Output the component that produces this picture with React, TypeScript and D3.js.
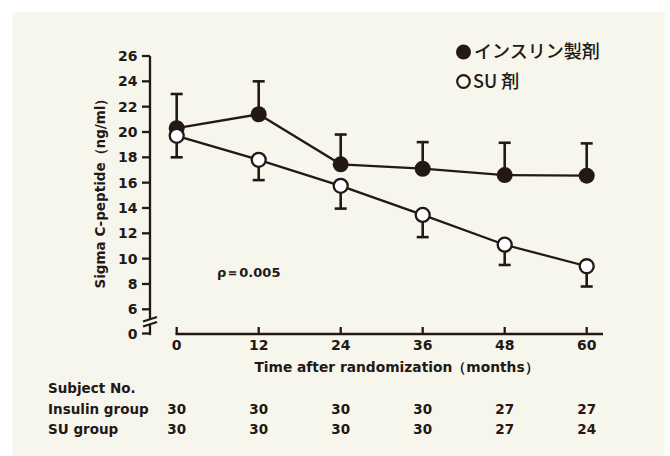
import React from "react";
import * as d3 from "d3";

const months = [0, 12, 24, 36, 48, 60];
const insulin = [20.3, 21.4, 17.45, 17.1, 16.6, 16.55];
const insulinUpper = [23.0, 24.0, 19.8, 19.2, 19.15, 19.1];
const su = [19.7, 17.8, 15.75, 13.45, 11.1, 9.4];
const suLower = [18.0, 16.2, 13.95, 11.7, 9.5, 7.8];
const yTicks = [0, 6, 8, 10, 12, 14, 16, 18, 20, 22, 24, 26];
const nInsulin = [30, 30, 30, 30, 27, 27];
const nSU = [30, 30, 30, 30, 27, 24];

const INK = "#231815";
const BG = "#f6f6ec";
const FONT = "'DejaVu Sans', sans-serif";
const CJK = "'Noto Sans CJK JP', sans-serif";

export default function App() {
  const x = d3.scaleLinear().domain([0, 60]).range([176.7, 586.7]);
  const y = d3.scaleLinear().domain([0, 6, 26]).range([333.5, 309.3, 56]);
  const line = d3
    .line<number>()
    .x((_, i) => x(months[i]))
    .y((d) => y(d));
  const axisX = 150;
  const axisY = 334;
  const sw = 2.3;
  const cap = 6;

  return (
    <svg
      width={670}
      height={456}
      style={{ position: "absolute", left: 0, top: 0, background: "#ffffff" }}
    >
      <rect x={12.5} y={12.5} width={652.5} height={443.5} fill={BG} />

      {/* Y axis */}
      <g stroke={INK} strokeWidth={sw} fill="none">
        <line x1={axisX} x2={axisX} y1={y(26)} y2={319.5} />
        <line x1={axisX} x2={axisX} y1={325} y2={axisY + sw / 2} />
        <line x1={143} x2={157} y1={321.5} y2={317} />
        <line x1={143} x2={157} y1={326.5} y2={322} />
        {yTicks.map((t) => (
          <line key={t} x1={axisX - 8} x2={axisX} y1={y(t)} y2={y(t)} />
        ))}
      </g>
      {yTicks.map((t) => (
        <text
          key={t}
          x={137.5}
          y={y(t)}
          dy="0.36em"
          textAnchor="end"
          fontFamily={FONT}
          fontWeight="bold"
          fontSize={14}
          fill={INK}
        >
          {t}
        </text>
      ))}
      <text
        transform={`translate(104.5,190) rotate(-90)`}
        textAnchor="middle"
        fontFamily={FONT}
        fontWeight="bold"
        fontSize={13.5}
        fill={INK}
      >
        Sigma C-peptide（ng/ml）
      </text>

      {/* X axis */}
      <g stroke={INK} strokeWidth={sw} fill="none">
        <line x1={x(0) - sw / 2} x2={603} y1={axisY} y2={axisY} />
        {months.map((m) => (
          <line key={m} x1={x(m)} x2={x(m)} y1={axisY} y2={axisY - 7} />
        ))}
      </g>
      {months.map((m) => (
        <text
          key={m}
          x={x(m)}
          y={349.5}
          textAnchor="middle"
          fontFamily={FONT}
          fontWeight="bold"
          fontSize={14}
          fill={INK}
        >
          {m}
        </text>
      ))}
      <text
        x={396.5}
        y={372}
        textAnchor="middle"
        fontFamily={FONT}
        fontWeight="bold"
        fontSize={13.8}
        fill={INK}
      >
        Time after randomization（months）
      </text>

      {/* Series lines */}
      <path d={line(insulin) || ""} stroke={INK} strokeWidth={sw} fill="none" />
      <path d={line(su) || ""} stroke={INK} strokeWidth={sw} fill="none" />

      {/* Error bars */}
      <g stroke={INK} strokeWidth={2.6} fill="none">
        {months.map((m, i) => (
          <g key={"ei" + m}>
            <line x1={x(m)} x2={x(m)} y1={y(insulin[i])} y2={y(insulinUpper[i])} />
            <line x1={x(m) - cap} x2={x(m) + cap} y1={y(insulinUpper[i])} y2={y(insulinUpper[i])} />
          </g>
        ))}
        {months.map((m, i) => (
          <g key={"es" + m}>
            <line x1={x(m)} x2={x(m)} y1={y(su[i])} y2={y(suLower[i])} />
            <line x1={x(m) - cap} x2={x(m) + cap} y1={y(suLower[i])} y2={y(suLower[i])} />
          </g>
        ))}
      </g>

      {/* Markers */}
      {months.map((m, i) => (
        <circle key={"mi" + m} cx={x(m)} cy={y(insulin[i])} r={8} fill={INK} />
      ))}
      {months.map((m, i) => (
        <circle
          key={"ms" + m}
          cx={x(m)}
          cy={y(su[i])}
          r={7}
          fill="#ffffff"
          stroke={INK}
          strokeWidth={2.3}
        />
      ))}

      {/* p value */}
      <text
        x={217}
        y={272.7}
        dy="0.36em"
        fontFamily={FONT}
        fontWeight="bold"
        fontSize={13}
        fill={INK}
      >
        ρ＝0.005
      </text>

      {/* Legend */}
      <circle cx={463.5} cy={52} r={7.5} fill={INK} />
      <text
        x={474}
        y={52}
        dy="0.36em"
        fontFamily={CJK}
        fontWeight={500}
        fontSize={18}
        fill={INK}
      >
        インスリン製剤
      </text>
      <circle cx={463.5} cy={81.5} r={6.3} fill="none" stroke={INK} strokeWidth={2.2} />
      <text
        x={473}
        y={81.5}
        dy="0.36em"
        fontFamily={CJK}
        fontWeight={500}
        fontSize={18}
        fill={INK}
      >
        SU 剤
      </text>

      {/* Subject table */}
      <g fontFamily={FONT} fontWeight="bold" fontSize={13.5} fill={INK}>
        <text x={48} y={393}>Subject No.</text>
        <text x={48} y={413.5}>Insulin group</text>
        <text x={48} y={433.5}>SU group</text>
        {months.map((m, i) => (
          <text key={"ni" + m} x={x(m)} y={413.5} textAnchor="middle">
            {nInsulin[i]}
          </text>
        ))}
        {months.map((m, i) => (
          <text key={"ns" + m} x={x(m)} y={433.5} textAnchor="middle">
            {nSU[i]}
          </text>
        ))}
      </g>
    </svg>
  );
}
